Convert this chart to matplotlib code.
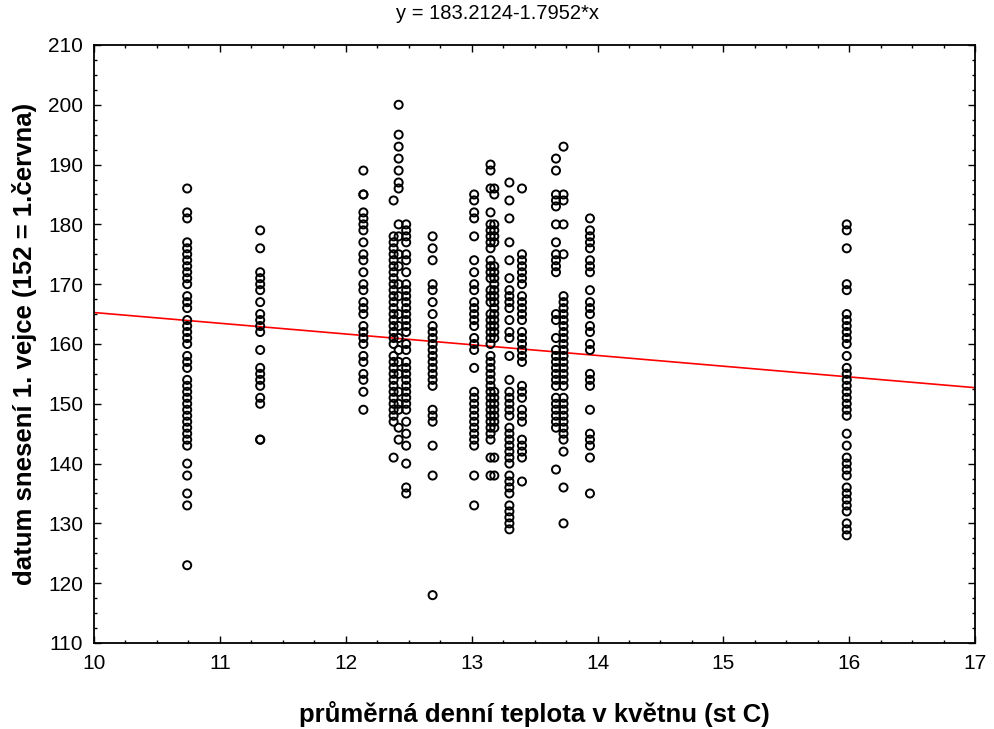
import matplotlib
matplotlib.use("Agg")
import matplotlib.pyplot as plt
from matplotlib.ticker import MultipleLocator

plt.rcParams['font.family'] = ['Liberation Sans', 'DejaVu Sans']

# regression coefficients shown in the title
b0 = 183.2124
b1 = -1.7952

# mean May temperature of each year (x) and laying dates of that year (y)
x_temps = [10.74, 11.32, 12.14, 12.38, 12.42, 12.48, 12.69, 13.02,
           13.15, 13.18, 13.30, 13.40, 13.67, 13.73, 13.94, 15.98]

y_1074 = [186, 182, 181, 177, 176, 175, 174, 173, 172, 171, 170, 168, 167, 166,
          164, 163, 162, 161, 160, 158, 157, 156, 154, 153, 152, 151, 150, 149,
          148, 147, 146, 145, 144, 143, 140, 138, 135, 133, 123]
y_1132 = [179, 176, 172, 171, 170, 169, 167, 165, 164, 163, 162, 159, 156, 155,
          154, 153, 151, 150, 144, 144]
y_1214 = [189, 185, 185, 182, 181, 180, 179, 177, 175, 174, 172, 170, 169, 167,
          166, 165, 163, 162, 161, 160, 158, 157, 155, 154, 152, 149]
y_1238 = [184, 178, 177, 176, 175, 174, 173, 172, 171, 170, 169, 168, 167, 166,
          165, 164, 163, 162, 161, 160, 158, 157, 156, 155, 154, 153, 152, 151,
          150, 149, 148, 147, 141]
y_1242 = [200, 195, 193, 191, 189, 187, 186, 180, 178, 175, 173, 170, 168, 165,
          163, 161, 159, 157, 155, 152, 150, 149, 146, 144]
y_1248 = [180, 179, 178, 177, 175, 174, 172, 170, 169, 168, 167, 166, 165, 164,
          163, 162, 160, 159, 157, 156, 155, 154, 153, 152, 151, 150, 149, 147,
          145, 143, 140, 136, 135]
y_1269 = [178, 176, 174, 170, 169, 167, 165, 163, 162, 161, 160, 159, 158, 157,
          156, 155, 154, 153, 149, 148, 147, 143, 138, 118]
y_1302 = [185, 184, 182, 181, 178, 174, 172, 170, 169, 167, 166, 165, 164, 163,
          161, 160, 159, 156, 152, 151, 150, 149, 148, 147, 146, 145, 144, 143,
          138, 133]
y_1315 = [190, 189, 186, 182, 180, 179, 178, 177, 176, 174, 173, 172, 171, 169,
          168, 167, 165, 164, 163, 162, 161, 160, 158, 157, 156, 155, 154, 153,
          152, 151, 150, 149, 148, 147, 146, 145, 144, 141, 138]
y_1318 = [186, 185, 180, 179, 178, 177, 173, 172, 171, 170, 169, 168, 167, 166,
          165, 164, 163, 162, 161, 152, 151, 150, 149, 148, 147, 146, 141, 138]
y_1330 = [187, 184, 181, 177, 174, 171, 169, 168, 167, 166, 164, 162, 161, 158,
          154, 152, 151, 150, 149, 148, 146, 145, 144, 143, 142, 141, 140, 138,
          137, 136, 135, 133, 132, 131, 130, 129]
y_1340 = [186, 175, 174, 173, 172, 171, 170, 168, 167, 166, 165, 164, 162, 161,
          160, 159, 158, 157, 153, 152, 151, 149, 148, 147, 144, 143, 142, 141,
          137]
y_1367 = [191, 189, 185, 184, 183, 180, 177, 175, 174, 173, 172, 165, 164, 161,
          159, 158, 157, 156, 155, 154, 153, 151, 150, 149, 148, 147, 146, 139]
y_1373 = [193, 185, 184, 180, 175, 168, 167, 166, 165, 164, 163, 162, 161, 160,
          159, 158, 157, 156, 155, 154, 153, 151, 150, 149, 148, 147, 146, 145,
          144, 142, 136, 130]
y_1394 = [181, 179, 178, 177, 176, 174, 173, 172, 169, 167, 166, 165, 163, 162,
          160, 159, 155, 154, 153, 149, 145, 144, 143, 141, 135]
y_1598 = [180, 179, 176, 170, 169, 165, 164, 163, 162, 161, 160, 158, 156, 155,
          154, 153, 152, 151, 150, 149, 148, 145, 143, 141, 140, 139, 138, 136,
          135, 134, 133, 132, 130, 129, 128]

y_groups = [y_1074, y_1132, y_1214, y_1238, y_1242, y_1248, y_1269, y_1302,
            y_1315, y_1318, y_1330, y_1340, y_1367, y_1373, y_1394, y_1598]

xs = []
ys = []
for t, grp in zip(x_temps, y_groups):
    xs += [t] * len(grp)
    ys += grp

fig = plt.figure(figsize=(9.94, 7.29), dpi=100)
ax = fig.add_axes([0.0946, 0.118, 0.8864, 0.8203])

ax.scatter(xs, ys, s=34, facecolors='none', edgecolors='black',
           linewidths=1.4, zorder=3)

# fitted line over the whole x range
lx = [10, 17]
ly = [b0 + b1 * v for v in lx]
ax.plot(lx, ly, color='red', linewidth=1.2, zorder=2)

ax.set_xlim(10, 17)
ax.set_ylim(110, 210)
ax.xaxis.set_major_locator(MultipleLocator(1))
ax.xaxis.set_minor_locator(MultipleLocator(0.25))
ax.yaxis.set_major_locator(MultipleLocator(10))
ax.yaxis.set_minor_locator(MultipleLocator(2.5))
ax.tick_params(which='both', direction='in', top=True, right=True,
               labelsize=15, width=1, color='black')
ax.tick_params(which='major', length=5, pad=8)
ax.tick_params(which='minor', length=2.5)
for sp in ax.spines.values():
    sp.set_linewidth(1.3)

# title is centred on the figure, not on the axes
fig.text(0.5, 0.981, "y = 183.2124-1.7952*x", ha='center', va='center',
         fontsize=14.5)
ax.set_xlabel("průměrná denní teplota v květnu (st C)", fontsize=18.5,
              fontweight='bold', labelpad=20)
ax.set_ylabel("datum snesení 1. vejce (152 = 1.června)", fontsize=18.5,
              fontweight='bold', labelpad=8)

fig.savefig("out.png", dpi=100)
